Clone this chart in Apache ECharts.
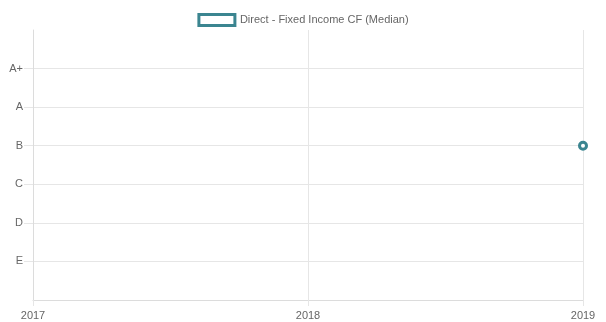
<!DOCTYPE html>
<html><head><meta charset="utf-8">
<script src="https://cdn.jsdelivr.net/npm/echarts@6/dist/echarts.min.js"></script>
<style>html,body{margin:0;padding:0;background:#fff}#c{width:606px;height:322px}</style>
</head><body><div id="c"></div>
<script>
const years = [2017, 2018, 2019];
const ratings = ['', 'E', 'D', 'C', 'B', 'A', 'A+', ''];
const seriesName = 'Direct - Fixed Income CF (Median)';
const pointYears = [2019];
const pointRatings = ['B'];

const teal = '#3b8590';
const font = 'Liberation Sans, Arial, sans-serif';
const data = pointYears.map((y, i) => [y, ratings.indexOf(pointRatings[i])]);
const ratingTicks = ratings.map((r, i) => i).filter(i => ratings[i] !== '');
const gridCol = '#e6e6e6';
const chart = echarts.init(document.getElementById('c'), null, {renderer: 'canvas'});
chart.setOption({
  animation: false,
  textStyle: {fontFamily: font},
  legend: {
    top: 8, left: 'center', itemWidth: 36, itemHeight: 11, itemGap: 7,
    textStyle: {color: '#666', fontSize: 11, fontFamily: font},
    data: [{name: seriesName, icon: 'rect', itemStyle: {color: '#fff', borderColor: teal, borderWidth: 3}}]
  },
  grid: {left: 33, right: 23, top: 30, bottom: 22, containLabel: false},
  xAxis: {
    type: 'value', min: years[0], max: years[years.length - 1], interval: 1,
    axisLine: {show: true, lineStyle: {color: '#dcdcdc'}},
    axisTick: {show: true, length: 6, lineStyle: {color: gridCol}},
    axisLabel: {color: '#666', fontSize: 11, margin: 10, fontFamily: font, formatter: v => String(v)},
    splitLine: {show: true, lineStyle: {color: gridCol}}
  },
  yAxis: {
    type: 'value', min: 0, max: ratings.length - 1, interval: 1,
    axisLine: {show: true, lineStyle: {color: '#dcdcdc'}},
    axisTick: {show: true, length: 9, customValues: ratingTicks, lineStyle: {color: gridCol}},
    axisLabel: {color: '#666', fontSize: 11, margin: 10, fontFamily: font, formatter: v => ratings[v] || ''},
    splitLine: {show: true, lineStyle: {color: [gridCol, gridCol, gridCol, gridCol, gridCol, gridCol, gridCol, 'rgba(0,0,0,0)']}}
  },
  series: [{
    name: seriesName, type: 'line', data: data,
    symbol: 'circle', symbolSize: 7, showSymbol: true,
    itemStyle: {color: '#fff', borderColor: teal, borderWidth: 3},
    lineStyle: {color: teal, width: 3}
  }]
});
</script></body></html>
